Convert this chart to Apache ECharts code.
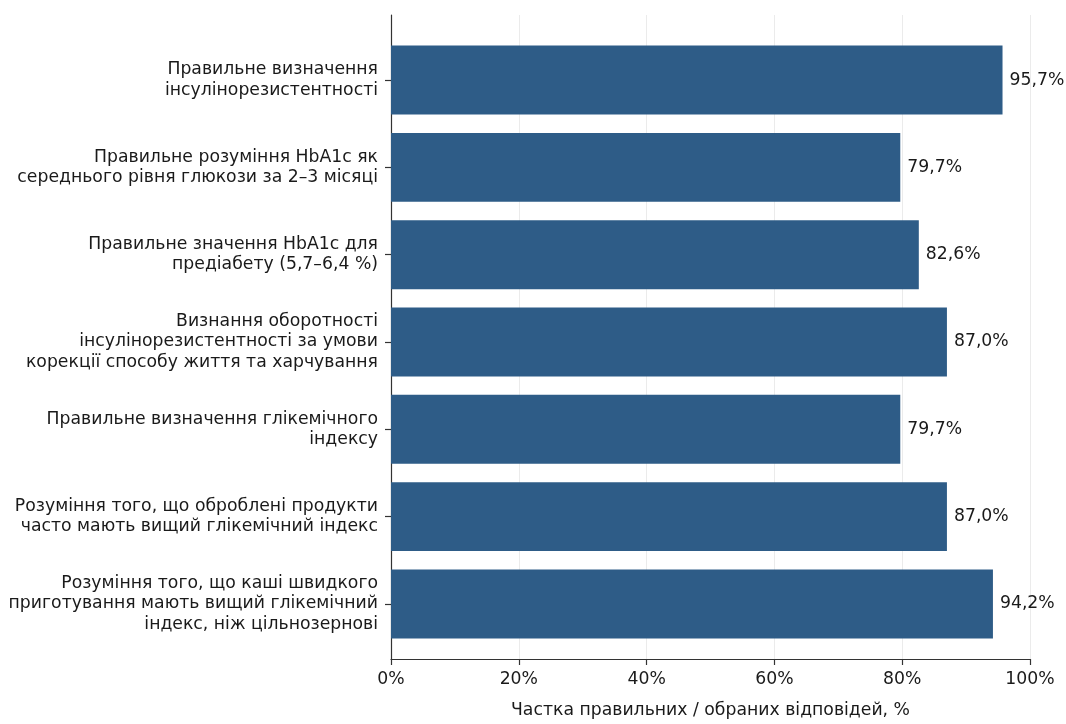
<!DOCTYPE html>
<html>
<head>
<meta charset="utf-8">
<script src="https://cdn.jsdelivr.net/npm/echarts@6/dist/echarts.min.js"></script>
<style>
  html, body { margin: 0; padding: 0; background: #fff; }
  #chart { width: 1066px; height: 724px; }
</style>
</head>
<body>
<div id="chart"></div>
<script>
// Survey items (top to bottom)
const categories = [
  'Правильне визначення\nінсулінорезистентності',
  'Правильне розуміння HbA1c як\nсереднього рівня глюкози за 2–3 місяці',
  'Правильне значення HbA1c для\nпредіабету (5,7–6,4 %)',
  'Визнання оборотності\nінсулінорезистентності за умови\nкорекції способу життя та харчування',
  'Правильне визначення глікемічного\nіндексу',
  'Розуміння того, що оброблені продукти\nчасто мають вищий глікемічний індекс',
  'Розуміння того, що каші швидкого\nприготування мають вищий глікемічний\nіндекс, ніж цільнозернові'
];
// Share of correct / chosen answers, %
const shares = [95.7, 79.7, 82.6, 87.0, 79.7, 87.0, 94.2];
const xTicks = [0, 20, 40, 60, 80, 100];

const FONT = '"DejaVu Sans", sans-serif';
const FS = 17.25;
const fmt = v => v.toFixed(1).replace('.', ',') + '%';

const chart = echarts.init(document.getElementById('chart'), null, { renderer: 'canvas' });

chart.setOption({
  animation: false,
  backgroundColor: '#ffffff',
  textStyle: { fontFamily: FONT },
  grid: [
    // frame: x axis, gridlines and left spine
    { left: 391, right: 36, top: 15, bottom: 55, containLabel: false },
    // bars: category bands
    { left: 391, right: 36, top: 36.4, bottom: 76.4, containLabel: false }
  ],
  xAxis: [
    {
      gridIndex: 0, type: 'value', min: xTicks[0], max: xTicks[xTicks.length - 1], interval: 20,
      name: 'Частка правильних / обраних відповідей, %',
      nameLocation: 'middle', nameGap: 43,
      nameTextStyle: { fontFamily: FONT, fontSize: FS, color: '#1a1a1a' },
      axisLine: { show: true, lineStyle: { color: '#333', width: 1.2 } },
      axisTick: { show: true, length: 6, lineStyle: { color: '#333', width: 1.2 } },
      axisLabel: { formatter: v => v + '%', fontFamily: FONT, fontSize: FS, color: '#1a1a1a', margin: 12 },
      splitLine: { show: true, lineStyle: { color: '#ebebeb', width: 1 } }
    },
    {
      gridIndex: 1, type: 'value', min: 0, max: 100, show: false
    }
  ],
  yAxis: [
    {
      gridIndex: 0, type: 'value', min: 0, max: 1,
      axisLine: { show: true, onZero: false, lineStyle: { color: '#333', width: 1.2 } },
      axisTick: { show: false }, axisLabel: { show: false }, splitLine: { show: false }
    },
    {
      gridIndex: 1, type: 'category', data: categories, inverse: true,
      axisLine: { show: false },
      axisTick: { show: true, alignWithLabel: true, length: 6, lineStyle: { color: '#333', width: 1.2 } },
      axisLabel: {
        fontFamily: FONT, fontSize: FS, color: '#1a1a1a', margin: 13,
        lineHeight: 20.2, align: 'right', padding: [5, 0, 0, 0]
      },
      splitLine: { show: false }
    }
  ],
  series: [{
    type: 'bar',
    xAxisIndex: 1, yAxisIndex: 1,
    data: shares,
    barWidth: '79%',
    itemStyle: { color: '#2e5c87' },
    label: {
      show: true, position: 'right', distance: 7,
      formatter: p => fmt(p.value),
      fontFamily: FONT, fontSize: FS, color: '#1a1a1a'
    }
  }]
});
</script>
</body>
</html>
